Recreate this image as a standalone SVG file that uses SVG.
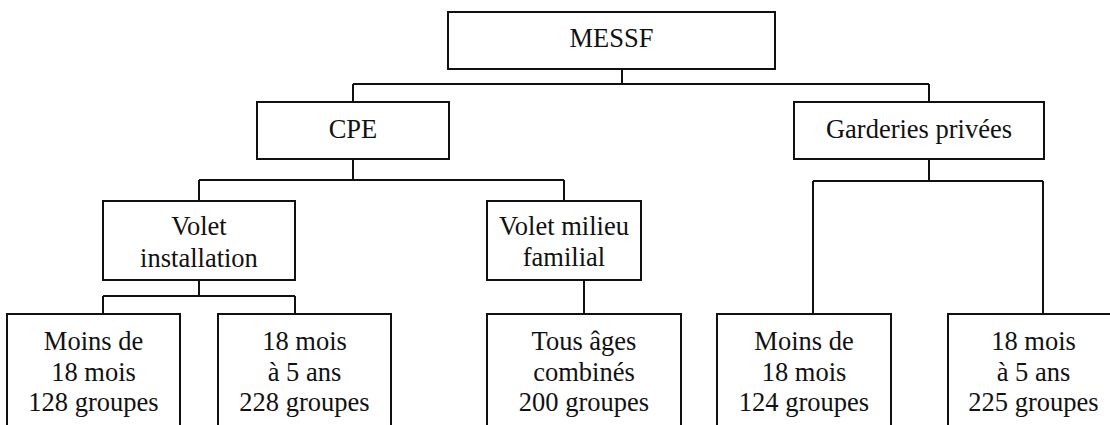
<svg xmlns="http://www.w3.org/2000/svg" width="1110" height="425" viewBox="0 0 1110 425">
<style>
.box{fill:#fff;stroke:#111;stroke-width:2}
.lbl{font-family:"Liberation Serif","Times New Roman",serif;font-size:26.5px;fill:#111;text-anchor:middle}
.con{fill:none;stroke:#111;stroke-width:2}
</style>
<rect width="1110" height="425" fill="#fff"/>
<g id="connectors" class="con">
<path d="M622,69 V84 M353,84 H929 M353,84 V102 M929,84 V102"/>
<path d="M353,159 V180 M199,180 H564 M199,180 V201 M564,180 V201"/>
<path d="M199,280 V296 M103,296 H295 M103,296 V314 M295,296 V314"/>
<path d="M584,280 V314"/>
<path d="M929,159 V181 M813,181 H1043 M813,181 V314 M1043,181 V314"/>
</g>
<g id="messf"><rect class="box" x="448" y="12" width="327" height="57"/><text class="lbl" x="611.5" y="47">MESSF</text></g>
<g id="cpe"><rect class="box" x="257" y="102" width="192" height="57"/><text class="lbl" x="353" y="138">CPE</text></g>
<g id="garderies"><rect class="box" x="794" y="102" width="250" height="57"/><text class="lbl" x="919" y="138">Garderies privées</text></g>
<g id="volet-installation"><rect class="box" x="103" y="201" width="192" height="79"/><text class="lbl" x="199" y="235">Volet</text><text class="lbl" x="199" y="267">installation</text></g>
<g id="volet-milieu"><rect class="box" x="487" y="201" width="154" height="79"/><text class="lbl" x="564" y="235">Volet milieu</text><text class="lbl" x="564" y="266">familial</text></g>
<g id="cpe-moins18"><rect class="box" x="7" y="314" width="173" height="130"/><text class="lbl" x="93.5" y="350">Moins de</text><text class="lbl" x="93.5" y="380.5">18 mois</text><text class="lbl" x="93.5" y="411">128 groupes</text></g>
<g id="cpe-18mois5ans"><rect class="box" x="218" y="314" width="173" height="130"/><text class="lbl" x="304.5" y="350">18 mois</text><text class="lbl" x="304.5" y="380.5">à 5 ans</text><text class="lbl" x="304.5" y="411">228 groupes</text></g>
<g id="milieu-tous"><rect class="box" x="487" y="314" width="194" height="130"/><text class="lbl" x="584" y="350">Tous âges</text><text class="lbl" x="584" y="380.5">combinés</text><text class="lbl" x="584" y="411">200 groupes</text></g>
<g id="gp-moins18"><rect class="box" x="717" y="314" width="174" height="130"/><text class="lbl" x="804" y="350">Moins de</text><text class="lbl" x="804" y="380.5">18 mois</text><text class="lbl" x="804" y="411">124 groupes</text></g>
<g id="gp-18mois5ans"><rect class="box" x="948" y="314" width="172" height="130"/><text class="lbl" x="1033.5" y="350">18 mois</text><text class="lbl" x="1033.5" y="380.5">à 5 ans</text><text class="lbl" x="1033.5" y="411">225 groupes</text></g>
</svg>
